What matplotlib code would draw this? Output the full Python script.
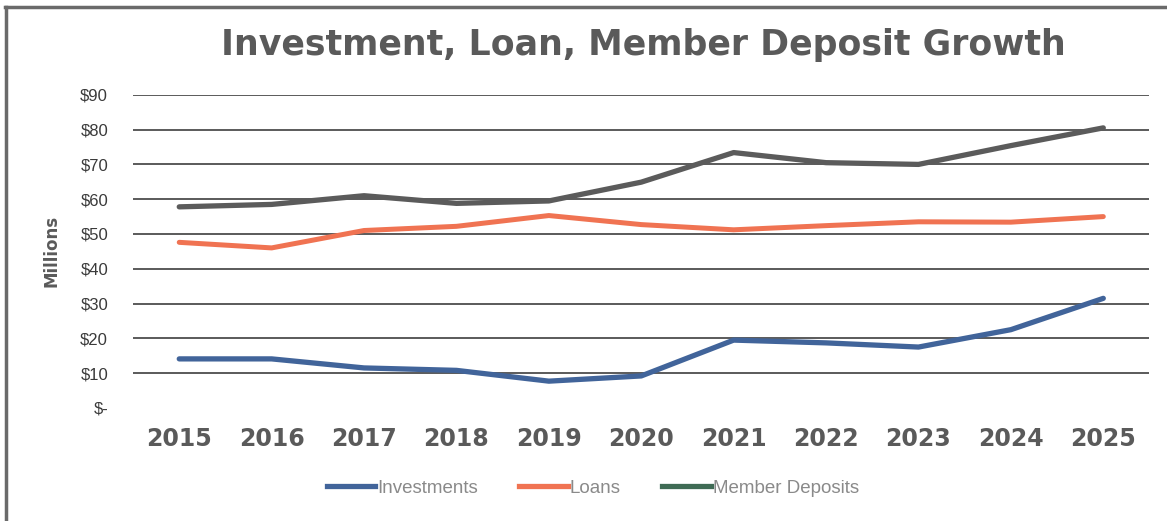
import matplotlib
matplotlib.use("Agg")
import matplotlib.pyplot as plt
from matplotlib.lines import Line2D
from matplotlib.ticker import FuncFormatter

years = ["2015", "2016", "2017", "2018", "2019", "2020",
         "2021", "2022", "2023", "2024", "2025"]
investments = [14.1, 14.1, 11.5, 10.8, 7.7, 9.2, 19.5, 18.7, 17.5, 22.5, 31.5]
loans = [47.6, 46.0, 51.0, 52.2, 55.3, 52.7, 51.2, 52.4, 53.5, 53.4, 55.0]
member_deposits = [57.8, 58.5, 61.0, 58.8, 59.5, 64.9, 73.4, 70.5, 70.0, 75.4, 80.5]
y_ticks = [0, 10, 20, 30, 40, 50, 60, 70, 80, 90]

C_INV = "#41649a"
C_LOAN = "#f07352"
C_DEP = "#5b5b5b"
C_DEP_KEY = "#3f6b55"
C_GRID = "#5a5a5a"
C_TEXT = "#5a5a5a"


def money(v, _pos):
    return "$-" if v == 0 else f"${v:.0f}"


fig = plt.figure(figsize=(11.67, 5.21), dpi=100)
ax = fig.add_axes([0.114, 0.217, 0.871, 0.601])

x = list(range(len(years)))
ax.plot(x, investments, color=C_INV, lw=3.8, solid_capstyle="round", zorder=3)
ax.plot(x, loans, color=C_LOAN, lw=3.6, solid_capstyle="round", zorder=3)
ax.plot(x, member_deposits, color=C_DEP, lw=3.8, solid_capstyle="round", zorder=3)

for v in y_ticks[1:]:
    ax.axhline(v, color=C_GRID, lw=1.4, zorder=1)

ax.set_xlim(-0.5, len(years) - 0.5)
ax.set_ylim(y_ticks[0], y_ticks[-1])
ax.set_yticks(y_ticks)
ax.yaxis.set_major_formatter(FuncFormatter(money))
ax.set_xticks(x)
ax.set_xticklabels(years, fontsize=17, fontweight="bold", color=C_TEXT,
                   family="DejaVu Sans")
for lbl in ax.get_yticklabels():
    lbl.set_family("Liberation Sans")
    lbl.set_fontsize(12)
    lbl.set_color("#3a3a3a")
ax.tick_params(length=0)
ax.tick_params(axis="x", pad=14)
ax.tick_params(axis="y", pad=18)
for s in ax.spines.values():
    s.set_visible(False)

ax.set_ylabel("Millions", fontsize=12, fontweight="bold", color=C_TEXT,
              family="DejaVu Sans", labelpad=14)

fig.text(0.551, 0.913, "Investment, Loan, Member Deposit Growth",
         ha="center", va="center", fontsize=25, fontweight="heavy",
         color=C_TEXT, family="DejaVu Sans")

handles = [
    Line2D([0], [0], color=C_INV, lw=3.8),
    Line2D([0], [0], color=C_LOAN, lw=3.8),
    Line2D([0], [0], color=C_DEP_KEY, lw=3.8),
]
leg = fig.legend(handles, ["Investments", "Loans", "Member Deposits"],
                 loc="center", bbox_to_anchor=(0.508, 0.063), ncol=3,
                 frameon=False, handlelength=2.6, handletextpad=0.1,
                 columnspacing=2.2, prop={"family": "Liberation Sans", "size": 13.5})
for t in leg.get_texts():
    t.set_color("#8a8a8a")

# outer frame: only the top and left edges are drawn
fig.add_artist(Line2D([0.004, 1.0], [0.986, 0.986], color="#6a6a6a", lw=2.5,
                      transform=fig.transFigure))
fig.add_artist(Line2D([0.005, 0.005], [0.0, 0.986], color="#6a6a6a", lw=2.5,
                      transform=fig.transFigure))

fig.savefig("out.png", dpi=100, facecolor="white")
